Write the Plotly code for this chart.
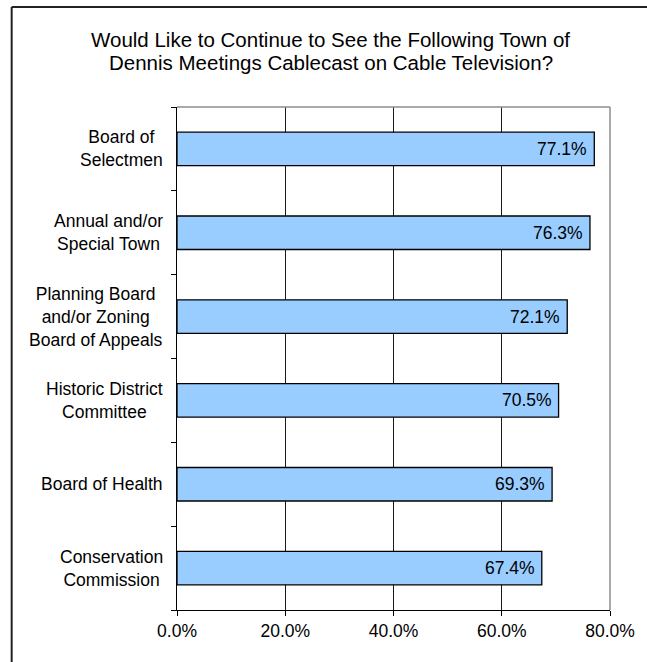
import plotly.graph_objects as go

# Survey results: share who want each meeting type to stay on cable TV
categories = [
    "Board of<br>Selectmen",
    "Annual and/or<br>Special Town",
    "Planning Board<br>and/or Zoning<br>Board of Appeals",
    "Historic District<br>Committee",
    "Board of Health",
    "Conservation<br>Commission",
]
shares = [0.771, 0.763, 0.721, 0.705, 0.693, 0.674]
x_ticks = [0.0, 0.2, 0.4, 0.6, 0.8]

title_lines = [
    "Would Like to Continue to See the Following Town of",
    "Dennis Meetings Cablecast on Cable Television?",
]

FONT = "Arial, Liberation Sans, sans-serif"
W, H = 647, 662
ML, MR, MT, MB = 177, 30, 107, 52
PW, PH = W - ML - MR, H - MT - MB


def px_x(px):
    return (px - ML) / PW


def px_y(py):
    return (H - MB - py) / PH


ypos = list(range(len(categories)))

fig = go.Figure(
    go.Bar(
        x=shares,
        y=ypos,
        orientation="h",
        width=0.4,
        marker=dict(color="#99CCFF", line=dict(color="#000000", width=1.3)),
        hoverinfo="skip",
    )
)

annotations = []
# value labels at the inner end of each bar
for v, y in zip(shares, ypos):
    annotations.append(dict(
        x=v, y=y, xref="x", yref="y", text=f"{v * 100:.1f}%",
        showarrow=False, xanchor="right", yanchor="middle", xshift=-5,
        font=dict(family=FONT, size=17.5, color="#000000"),
    ))
# category labels, lines centred within each block
for c, y in zip(categories, ypos):
    annotations.append(dict(
        x=0, y=y, xref="paper", yref="y", text=c, align="center",
        showarrow=False, xanchor="right", yanchor="middle", xshift=-12,
        font=dict(family=FONT, size=17.5, color="#000000"),
    ))
# two-line title
for line, cy in zip(title_lines, [39.5, 62]):
    annotations.append(dict(
        x=px_x(333), y=px_y(cy), xref="paper", yref="paper", text=line,
        showarrow=False, xanchor="center", yanchor="middle",
        font=dict(family=FONT, size=20.5, color="#000000"),
    ))

shapes = [
    # plot area frame (top and right)
    dict(type="line", xref="paper", yref="paper", x0=0, x1=1, y0=1, y1=1,
         line=dict(color="#8c8c8c", width=1.5), layer="above"),
    dict(type="line", xref="paper", yref="paper", x0=1, x1=1, y0=0, y1=1,
         line=dict(color="#8c8c8c", width=1.5), layer="above"),
    # chart border
    dict(type="line", xref="paper", yref="paper", x0=px_x(9), x1=px_x(W + 20),
         y0=px_y(7), y1=px_y(7), line=dict(color="#222222", width=2)),
    dict(type="line", xref="paper", yref="paper", x0=px_x(9), x1=px_x(9),
         y0=px_y(7), y1=px_y(H + 20), line=dict(color="#222222", width=2)),
]

fig.update_layout(
    width=W, height=H,
    margin=dict(l=ML, r=MR, t=MT, b=MB),
    paper_bgcolor="#ffffff", plot_bgcolor="#ffffff",
    showlegend=False,
    annotations=annotations,
    shapes=shapes,
    font=dict(family=FONT, size=17.5, color="#000000"),
    xaxis=dict(
        range=[0, 0.8], tickvals=x_ticks, tickformat=".1%",
        showgrid=True, gridcolor="#1a1a1a", gridwidth=1,
        showline=True, linecolor="#000000", linewidth=1,
        ticks="outside", ticklen=5, tickcolor="#000000", tickwidth=1,
        zeroline=False, fixedrange=True,
        tickfont=dict(family=FONT, size=17.5, color="#000000"),
    ),
    yaxis=dict(
        range=[len(categories) - 0.5, -0.5],
        tickvals=[i - 0.5 for i in range(len(categories) + 1)],
        showticklabels=False,
        showgrid=False, zeroline=False,
        showline=True, linecolor="#000000", linewidth=1,
        ticks="outside", ticklen=5, tickcolor="#000000", tickwidth=1,
        fixedrange=True,
    ),
)

fig.write_html("out.html", config={"displayModeBar": False})
